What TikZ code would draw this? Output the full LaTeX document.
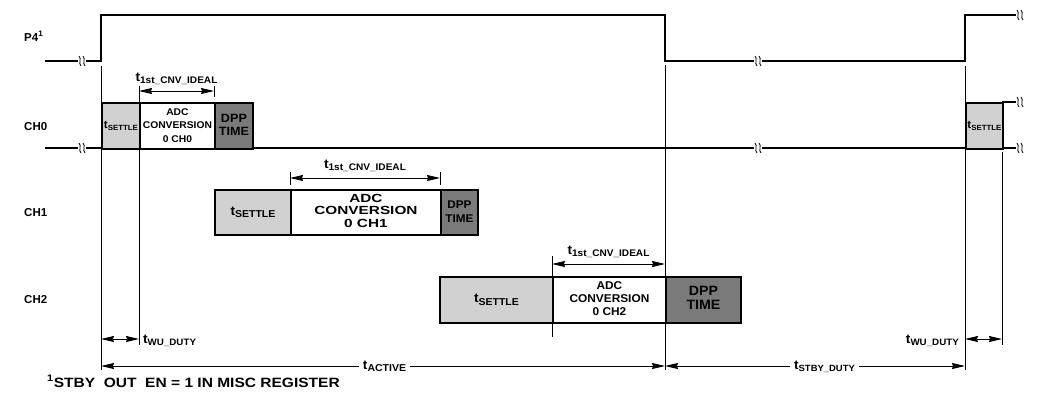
\documentclass[tikz,border=0pt]{standalone}
\usepackage{fontspec}
\setmainfont{Liberation Sans}
\usetikzlibrary{arrows.meta}
\newcommand{\tsb}[3]{{\fontsize{#1}{#1}\selectfont t}\raisebox{-2.4pt}{\fontsize{#2}{#2}\selectfont #3}}
\newcommand{\stx}[2][1.05]{\scalebox{#1}[1]{#2}}
\newcommand{\ctab}[1]{\begin{tabular}{@{}c@{}}#1\end{tabular}}
\begin{document}
\begin{tikzpicture}[x=1pt,y=-1pt,
  sig/.style={line width=1.9pt},
  hair/.style={line width=0.9pt},
  box/.style={draw, line width=1.9pt, inner sep=0pt, anchor=north west},
  settlebox/.style={box, fill=black!18},
  adcbox/.style={box, fill=white},
  dppbox/.style={box, fill=black!52},
  txt/.style={font=\bfseries, inner sep=0pt},
  lbl/.style={txt, fill=white, inner xsep=4pt, inner ysep=1.5pt},
  dimline/.style={hair, {Stealth[length=13pt,width=6pt,inset=1pt]}-{Stealth[length=13pt,width=6pt,inset=1pt]}},
  brk/.pic={
    \fill[white] (-4,-7) rectangle (4,7);
    \draw[line width=0.8pt] (-3,-5) .. controls (0,-2) and (-4,2) .. (-1,5);
    \draw[line width=0.8pt] (1,-5) .. controls (4,-2) and (0,2) .. (3,5);
  }
]
\useasboundingbox (0,0) rectangle (1039,400);

% thin vertical reference lines
\draw[hair] (101,66) -- (101,370);
\draw[hair] (139,86) -- (139,345);
\draw[hair] (214,86) -- (214,97);
\draw[hair] (290,172) -- (290,185);
\draw[hair] (440,172) -- (440,185);
\draw[hair] (552,256) -- (552,337);
\draw[hair] (665,65) -- (665,370);
\draw[hair] (965,66) -- (965,370);
\draw[hair] (1002,152) -- (1002,345);

% signals
\draw[sig] (45,61) -- (101,61) -- (101,15) -- (665,15) -- (665,61) -- (965,61) -- (965,15) -- (1016,15);
\draw[sig] (45,148) -- (1016,148);
\draw[sig] (1002,102) -- (1016,102);

% CH0 boxes
\node[settlebox, minimum width=38pt, minimum height=46pt] (s0) at (101,102) {};
\node[adcbox, minimum width=75pt, minimum height=46pt] (a0) at (139,102) {};
\node[dppbox, minimum width=38pt, minimum height=46pt] (d0) at (214,102) {};
\node[settlebox, minimum width=37pt, minimum height=46pt] (s3) at (965,102) {};
% CH1 boxes
\node[settlebox, minimum width=76pt, minimum height=45pt] (s1) at (214,189) {};
\node[adcbox, minimum width=150pt, minimum height=45pt] (a1) at (290,189) {};
\node[dppbox, minimum width=37pt, minimum height=45pt] (d1) at (440,189) {};
% CH2 boxes
\node[settlebox, minimum width=113pt, minimum height=46pt] (s2) at (439,276) {};
\node[adcbox, minimum width=113pt, minimum height=46pt] (a2) at (552,276) {};
\node[dppbox, minimum width=75pt, minimum height=46pt] (d2) at (665,276) {};

% break marks
\pic at (82,61) {brk};
\pic at (758,61) {brk};
\pic at (1020,15) {brk};
\pic at (82,148) {brk};
\pic at (758,148) {brk};
\pic at (1020,148) {brk};
\pic at (1020,102) {brk};

% row labels
\node[txt, anchor=base west] (p4l) at (24,41) {\fontsize{11.5}{13}\selectfont P4\textsuperscript{1}};
\node[txt, anchor=base west] (ch0l) at (24,130.5) {\fontsize{11.5}{13}\selectfont CH0};
\node[txt, anchor=base west] (ch1l) at (24,216.5) {\fontsize{11.5}{13}\selectfont CH1};
\node[txt, anchor=base west] (ch2l) at (24,303.5) {\fontsize{11.5}{13}\selectfont CH2};

% box texts
\node[txt] at (s0.center) {\stx{\tsb{11}{7.5}{SETTLE}}};
\node[txt] at (s3.center) {\stx{\tsb{11}{7.5}{SETTLE}}};
\node[txt] at (s1.center) {\stx{\tsb{13}{10}{SETTLE}}};
\node[txt] at (s2.center) {\stx{\tsb{13}{10}{SETTLE}}};
\node[txt] at (a0.center) {\stx{\fontsize{9.8}{13.5}\selectfont\ctab{ADC\\CONVERSION\\0 CH0}}};
\node[txt] at (a1.center) {\stx[1.3]{\fontsize{11.8}{12.5}\selectfont\ctab{ADC\\CONVERSION\\0 CH1}}};
\node[txt] at (a2.center) {\stx{\fontsize{11.3}{13}\selectfont\ctab{ADC\\CONVERSION\\0 CH2}}};
\node[txt] at (d0.center) {\stx{\fontsize{12}{13}\selectfont\ctab{DPP\\TIME}}};
\node[txt] at (d1.center) {\stx{\fontsize{11.2}{14}\selectfont\ctab{DPP\\TIME}}};
\node[txt] at (d2.center) {\stx{\fontsize{13.5}{13.5}\selectfont\ctab{DPP\\TIME}}};

% dimension arrows
\coordinate (c0a) at (139,91); \coordinate (c0b) at (214,91);
\coordinate (c1a) at (290,178); \coordinate (c1b) at (440,178);
\coordinate (c2a) at (552,264); \coordinate (c2b) at (665,264);
\coordinate (w1a) at (101,339); \coordinate (w1b) at (139,339);
\coordinate (w2a) at (965,339); \coordinate (w2b) at (1002,339);
\coordinate (ta) at (101,366); \coordinate (tb) at (665,366); \coordinate (tc) at (965,366);
\draw[dimline] (c0a) -- (c0b);
\draw[dimline] (c1a) -- (c1b);
\draw[dimline] (c2a) -- (c2b);
\draw[dimline] (w1a) -- (w1b);
\draw[dimline] (w2a) -- (w2b);
\draw[dimline] (ta) -- (tb);
\draw[dimline] (tb) -- (tc);

\node[txt, anchor=base] at (176.5,81.5) {\stx{\tsb{13}{9.6}{1st\_CNV\_IDEAL}}};
\node[txt, anchor=base] at (365,168.5) {\stx{\tsb{13}{9.6}{1st\_CNV\_IDEAL}}};
\node[txt, anchor=base] at (608.5,254.5) {\stx{\tsb{13}{9.6}{1st\_CNV\_IDEAL}}};
\node[txt, anchor=base west] at (143,343) {\stx{\tsb{13}{9.3}{WU\_DUTY}}};
\node[txt, anchor=base east] at (959,343) {\stx{\tsb{13}{9.3}{WU\_DUTY}}};
\node[lbl, anchor=base] at (384.5,369) {\stx{\tsb{13}{10}{ACTIVE}}};
\node[lbl, anchor=base] at (824.5,369) {\stx{\tsb{13}{9}{STBY\_DUTY}}};

% footnote
\node[txt, anchor=base west] (fn) at (47,387) {\stx[1.15]{\fontsize{13.5}{15}\selectfont\textsuperscript{1}STBY\ \ OUT\ \ EN = 1 IN MISC REGISTER}};
\end{tikzpicture}
\end{document}
